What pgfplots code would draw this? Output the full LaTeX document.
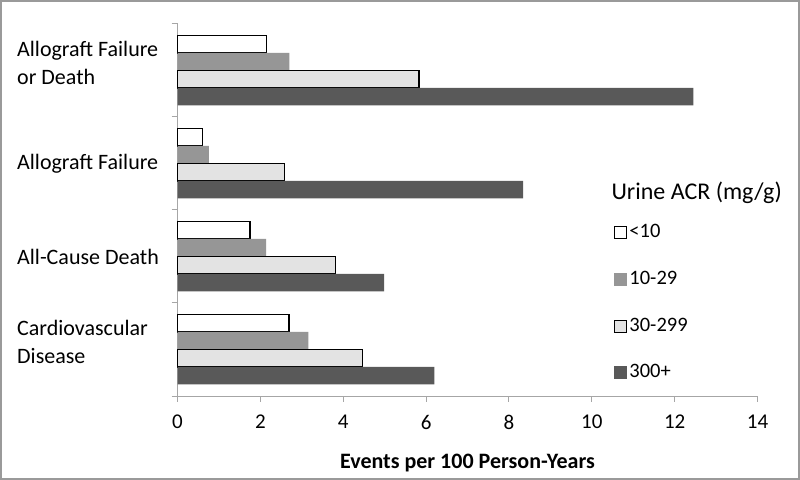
\documentclass[border=0pt]{standalone}
\usepackage{fontspec}
\setmainfont{Carlito}
\usepackage{pgfplots}
\pgfplotsset{compat=1.18}
\definecolor{axgray}{HTML}{A6A6A6}
\definecolor{framegray}{HTML}{9A9A9A}
\definecolor{midgray}{HTML}{969696}
\definecolor{lightgray2}{HTML}{E3E3E3}
\definecolor{darkgray2}{HTML}{595959}
\pgfplotsset{
  sqbox/.style={legend image code/.code={\draw[##1,line width=1bp] (0bp,-6bp) rectangle (12bp,6bp);}},
  sqfill/.style={legend image code/.code={\fill[##1] (0bp,-6.5bp) rectangle (12.5bp,6.5bp);}},
}
\newcommand{\twolines}[2]{\raisebox{6bp}[\height][\depth]{\begin{tabular}{@{}l@{}}#1\\#2\end{tabular}}}
\begin{document}
\begin{tikzpicture}
\useasboundingbox (0bp,0bp) rectangle (800bp,480bp);
\fill[white] (0bp,0bp) rectangle (800bp,480bp);
\draw[color=framegray, line width=2bp] (1bp,1bp) rectangle (799bp,479bp);
\begin{axis}[
  at={(177.5bp,84bp)}, anchor=south west,
  scale only axis, width=580bp, height=372bp,
  xmin=0, xmax=14, ymin=-0.5, ymax=3.5,
  axis x line*=bottom, axis y line*=left,
  axis line style={-, axgray, line width=1bp},
  xbar, bar width=17.5bp,
  xtick={0,2,...,14},
  tick align=outside, major tick length=6bp,
  tick style={axgray, line width=1bp},
  ytick={-0.5,0.5,1.5,2.5,3.5}, yticklabels={},
  extra y ticks={0,1,2,3},
  extra y tick labels={{\twolines{Cardiovascular}{Disease}},{All-Cause Death},{Allograft Failure},{\twolines{Allograft Failure}{or Death}}},
  extra y tick style={major tick length=0pt, yticklabel style={anchor=west, inner sep=0pt, xshift=-160.5bp, font=\fontsize{22bp}{28bp}\selectfont}},
  xticklabel style={inner sep=0pt, yshift=-13bp, font=\fontsize{21bp}{26bp}\selectfont},
  /pgf/number format/assume math mode=true,
  xlabel={\textbf{Events per 100 Person-Years}},
  xlabel style={font=\fontsize{22bp}{26bp}\selectfont, inner sep=0pt, yshift=-24bp},
  legend style={draw=none, fill=none, at={(0.747,0.469)}, anchor=north west,
    font=\fontsize{20.5bp}{24bp}\selectfont, row sep=28.7bp,
    nodes={inner xsep=2.5bp, inner ysep=0pt, text height=14bp, text depth=4bp}},
  legend cell align=left,
  clip=false,
]
\addplot[sqbox, fill=white, draw=black, line width=1.2bp, bar shift=26.25bp] coordinates {(2.69,0) (1.75,1) (0.60,2) (2.14,3)};
\addplot[sqfill, fill=midgray, draw=none, bar shift=8.75bp] coordinates {(3.16,0) (2.14,1) (0.76,2) (2.70,3)};
\addplot[sqbox, fill=lightgray2, draw=black, line width=1.2bp, bar shift=-8.75bp] coordinates {(4.46,0) (3.82,1) (2.58,2) (5.83,3)};
\addplot[sqfill, fill=darkgray2, draw=none, bar shift=-26.25bp] coordinates {(6.20,0) (4.99,1) (8.34,2) (12.45,3)};
\legend{<10,10-29,30-299,300+}
\node[anchor=west, inner sep=0pt, font=\fontsize{24bp}{28bp}\selectfont] at (axis description cs:0.748,0.546) {Urine ACR (mg/g)};
\end{axis}
\end{tikzpicture}
\end{document}
